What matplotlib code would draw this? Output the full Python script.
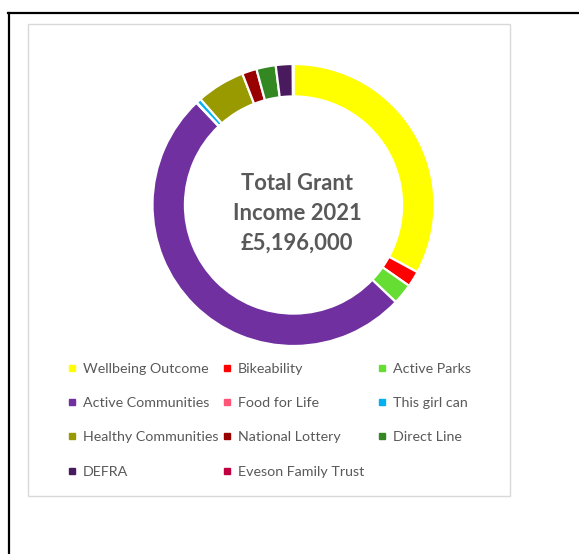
import matplotlib
matplotlib.use("Agg")
import matplotlib.pyplot as plt
from matplotlib.lines import Line2D
from matplotlib.patches import Rectangle

categories = ["Wellbeing Outcome", "Bikeability", "Active Parks",
              "Active Communities", "Food for Life", "This girl can",
              "Healthy Communities", "National Lottery", "Direct Line",
              "DEFRA", "Eveson Family Trust"]
values = [1710000, 94000, 123000, 2641000, 3000, 29000, 289000,
          87000, 115000, 101000, 4000]
colors = ["#FFFF00", "#FF0000", "#66DD33", "#7030A0", "#FF5577",
          "#00B0F0", "#999900", "#990000", "#338822", "#4A1A5E", "#C00040"]
center_text = "Total Grant\nIncome 2021\n£5,196,000"

W, H = 579, 554
fig = plt.figure(figsize=(W / 100, H / 100), dpi=100)
fig.patch.set_facecolor("white")

def fx(px):
    return px / W

def fy(py):
    return 1 - py / H

# frame lines
fig.add_artist(Line2D([fx(8), fx(579)], [fy(13), fy(13)], color="black", lw=1.6,
                      transform=fig.transFigure))
fig.add_artist(Line2D([fx(9), fx(9)], [fy(13), fy(554)], color="black", lw=1.6,
                      transform=fig.transFigure))
fig.add_artist(Rectangle((fx(27.5), fy(496)), fx(509.5) - fx(27.5), fy(24) - fy(496),
                         fill=False, edgecolor="#D9D9D9", lw=1.0,
                         transform=fig.transFigure))

# donut
cx, cy, R = 293.5, 205, 141
half = 150
ax = fig.add_axes([fx(cx - half), fy(cy + half), 2 * half / W, 2 * half / H])
lim = half / R
ax.pie(values, colors=colors, startangle=90, counterclock=False, radius=1,
       wedgeprops=dict(width=0.23, edgecolor="white", linewidth=1.6))
ax.set_xlim(-lim, lim)
ax.set_ylim(-lim, lim)
ax.set_aspect("auto")
ax.axis("off")

ax.text(0.025, -0.06, center_text, ha="center", va="center", fontsize=15.8,
        fontweight="bold", color="#595959", family="Lato", linespacing=1.5)

# legend in three columns (row-major order)
col_x = [68, 223, 378]
for c in range(3):
    idx = list(range(c, len(categories), 3))
    handles = [Line2D([], [], marker="s", linestyle="none", markersize=4.5,
                      markerfacecolor=colors[i], markeredgecolor=colors[i])
               for i in idx]
    labels = [categories[i] for i in idx]
    fig.legend(handles, labels, loc="upper left",
               bbox_to_anchor=(fx(col_x[c]), fy(363)), frameon=False,
               prop=dict(family="Lato", size=10.3), labelcolor="#595959",
               handlelength=0.6, handletextpad=0.45, labelspacing=1.55,
               borderpad=0, borderaxespad=0)

fig.savefig("out.png", dpi=100, facecolor="white")
